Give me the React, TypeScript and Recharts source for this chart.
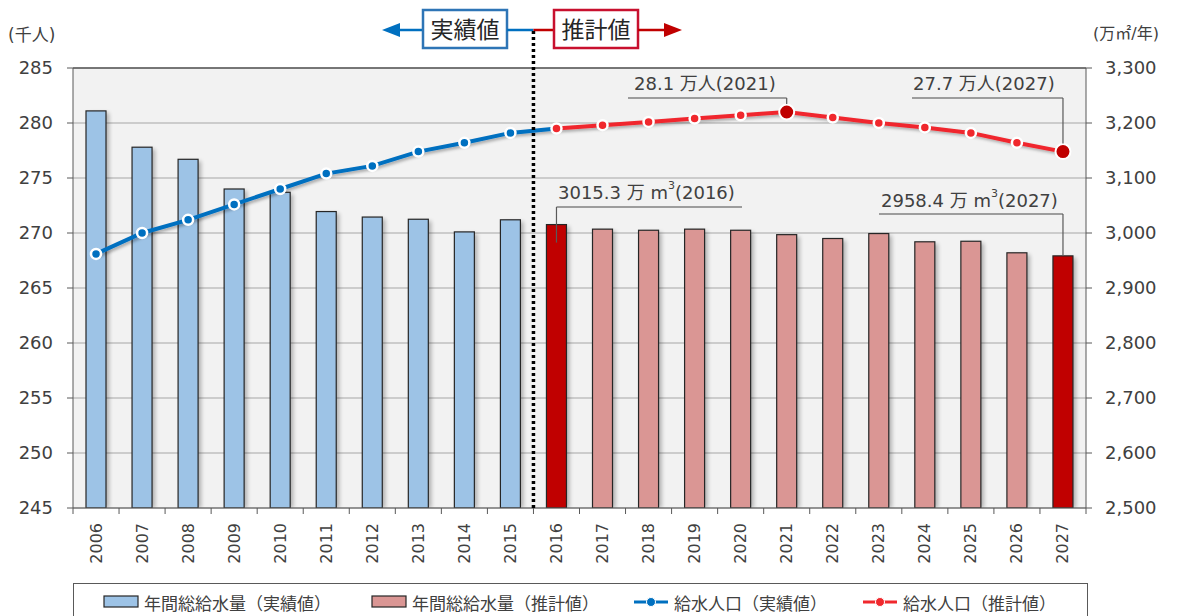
import React from "react";
import {
  Bar,
  CartesianGrid,
  ComposedChart,
  Line,
  ReferenceLine,
  XAxis,
  YAxis,
} from "recharts";

// categories
const years = [
  "2006", "2007", "2008", "2009", "2010", "2011", "2012", "2013", "2014", "2015",
  "2016", "2017", "2018", "2019", "2020", "2021", "2022", "2023", "2024", "2025",
  "2026", "2027",
];

// 年間総給水量 (万m³/年)
const waterActual = [3222, 3156, 3134, 3080, 3074, 3039, 3029, 3025, 3002, 3024];
const waterEstimate = [3015.3, 3007, 3005, 3007, 3005, 2997, 2990, 2999, 2984, 2985, 2964, 2958.4];

// 給水人口 (千人)
const popActual = [268.1, 270.0, 271.2, 272.6, 274.0, 275.4, 276.1, 277.4, 278.2, 279.1];
const popEstimate = [279.5, 279.8, 280.1, 280.4, 280.7, 281.0, 280.5, 280.0, 279.6, 279.1, 278.2, 277.4];

const popTicks = [245, 250, 255, 260, 265, 270, 275, 280, 285];
const waterTicks = [2500, 2600, 2700, 2800, 2900, 3000, 3100, 3200, 3300];

const highlightBarYears = ["2016", "2027"];
const highlightPopYears = ["2021", "2027"];

const W = 1178;
const H = 616;
const PLOT = { left: 73, top: 68, right: 1086, bottom: 508 };
const BAND = (PLOT.right - PLOT.left) / years.length;
const FONT = '"DejaVu Sans", "Noto Sans CJK JP", sans-serif';
const nActual = waterActual.length;

const rows = years.map((year, i) => ({
  year,
  water: i < nActual ? waterActual[i] : waterEstimate[i - nActual],
  popA: i < nActual ? popActual[i] : i === nActual ? popEstimate[0] : null,
  popE: i >= nActual ? popEstimate[i - nActual] : null,
}));

// helpers for the overlay (annotations follow the same domains as the axes)
const xOf = (year: string) => PLOT.left + BAND * (years.indexOf(year) + 0.5);
const yPop = (v: number) =>
  PLOT.top + ((popTicks[popTicks.length - 1] - v) / (popTicks[popTicks.length - 1] - popTicks[0])) * (PLOT.bottom - PLOT.top);
const yWater = (v: number) =>
  PLOT.top + ((waterTicks[waterTicks.length - 1] - v) / (waterTicks[waterTicks.length - 1] - waterTicks[0])) * (PLOT.bottom - PLOT.top);
const rowOf = (year: string) => rows[years.indexOf(year)];

function WaterBar(props: any) {
  const { x, y, width, height, payload } = props;
  const i = years.indexOf(payload.year);
  const fill = highlightBarYears.includes(payload.year)
    ? "#c00000"
    : i < nActual
    ? "#9dc3e6"
    : "#da9694";
  return (
    <g>
      {/* soft shadow to the right of each bar */}
      <rect x={x + 3} y={y + 2} width={width} height={height - 2} fill="#000" opacity={0.28} filter="url(#blur2)" />
      <rect x={x} y={y} width={width} height={height} fill={fill} stroke="#262626" strokeWidth={1.2} />
    </g>
  );
}

function ActualDot(p: any) {
  if (p.cy == null || years.indexOf(p.payload.year) >= nActual) return <g key={p.index} />;
  return <circle key={p.index} cx={p.cx} cy={p.cy} r={5} fill="#0070c0" stroke="#ffffff" strokeWidth={2.5} />;
}

function EstimateDot(p: any) {
  if (p.cy == null) return <g key={p.index} />;
  if (highlightPopYears.includes(p.payload.year)) {
    return <circle key={p.index} cx={p.cx} cy={p.cy} r={7.5} fill="#c00000" stroke="#ffffff" strokeWidth={2} />;
  }
  return <circle key={p.index} cx={p.cx} cy={p.cy} r={5} fill="#f0282d" stroke="#ffffff" strokeWidth={2.5} />;
}

function YearTick({ x, y, payload }: any) {
  const half = BAND / 2;
  const last = payload.value === years[years.length - 1];
  return (
    <g>
      <line x1={x - half} x2={x - half} y1={y} y2={y + 6} stroke="#595959" />
      {last && <line x1={x + half} x2={x + half} y1={y} y2={y + 6} stroke="#595959" />}
      <text
        x={x}
        y={y + 15}
        transform={`rotate(-90 ${x} ${y + 15})`}
        textAnchor="end"
        dominantBaseline="central"
        fontSize={16}
        fill="#404040"
        fontFamily={FONT}
      >
        {payload.value}
      </text>
    </g>
  );
}

type Note = { text: React.ReactNode; textX: number; textY: number; lineY: number; lineX: number; px: number; py: number };

function Overlay() {
  const divX = PLOT.left + BAND * nActual;
  const p2021 = rowOf("2021").popE as number;
  const p2027 = rowOf("2027").popE as number;
  const notes: Note[] = [
    { text: "28.1 万人(2021)", textX: 634, textY: 83, lineY: 98, lineX: 628, px: xOf("2021"), py: yPop(p2021) - 8 },
    { text: "27.7 万人(2027)", textX: 913, textY: 83, lineY: 98, lineX: 912, px: xOf("2027"), py: yPop(p2027) - 8 },
    {
      text: (
        <>
          3015.3 万 m<tspan dy={-7} fontSize={11}>3</tspan>
          <tspan dy={7}>(2016)</tspan>
        </>
      ),
      textX: 558, textY: 192, lineY: 207, lineX: 742, px: xOf("2016"), py: yWater(rowOf("2016").water) + 18,
    },
    {
      text: (
        <>
          2958.4 万 m<tspan dy={-7} fontSize={11}>3</tspan>
          <tspan dy={7}>(2027)</tspan>
        </>
      ),
      textX: 881, textY: 200, lineY: 214, lineX: 879, px: xOf("2027"), py: yWater(rowOf("2027").water),
    },
  ];
  return (
    <svg
      width={W}
      height={H}
      style={{ position: "absolute", left: 0, top: 0, pointerEvents: "none" }}
      fontFamily={FONT}
    >
      {/* unit labels */}
      <text x={8} y={35} fontSize={17} fill="#404040" dominantBaseline="central">(千人)</text>
      <text x={1093} y={33} fontSize={16} fill="#404040" dominantBaseline="central">(万㎡/年)</text>

      {/* header: 実績値 / 推計値 */}
      <line x1={396} x2={423} y1={30} y2={30} stroke="#0070c0" strokeWidth={2.5} />
      <polygon points="382,30 400,23 400,37" fill="#0070c0" />
      <rect x={423} y={10} width={84} height={38} fill="#fff" stroke="#2e75b6" strokeWidth={2.5} />
      <text x={465} y={30} fontSize={23} fill="#262626" textAnchor="middle" dominantBaseline="central">実績値</text>
      <line x1={507} x2={divX} y1={30} y2={30} stroke="#0070c0" strokeWidth={2.5} />
      <line x1={divX} x2={554} y1={30} y2={30} stroke="#c00000" strokeWidth={2.5} />
      <rect x={554} y={10} width={84} height={38} fill="#fff" stroke="#c8102e" strokeWidth={2.5} />
      <text x={596} y={30} fontSize={23} fill="#262626" textAnchor="middle" dominantBaseline="central">推計値</text>
      <line x1={638} x2={668} y1={30} y2={30} stroke="#c00000" strokeWidth={2.5} />
      <polygon points="682,30 664,23 664,37" fill="#c00000" />

      {/* divider */}
      <line x1={divX} x2={divX} y1={31} y2={PLOT.bottom} stroke="#000" strokeWidth={3.5} strokeDasharray="3 3" />

      {/* annotations */}
      {notes.map((n, i) => (
        <g key={i}>
          <line x1={n.lineX} x2={n.px} y1={n.lineY} y2={n.lineY} stroke="#808080" strokeWidth={1.5} />
          <line x1={n.px} x2={n.px} y1={n.lineY} y2={n.py} stroke="#595959" strokeWidth={1.2} />
          <text x={n.textX} y={n.textY} fontSize={18} fill="#404040" dominantBaseline="central">
            {n.text}
          </text>
        </g>
      ))}
    </svg>
  );
}

const legendItems = [
  { label: "年間総給水量（実績値）", kind: "bar", color: "#9dc3e6", left: 103 },
  { label: "年間総給水量（推計値）", kind: "bar", color: "#da9694", left: 371 },
  { label: "給水人口（実績値）", kind: "line", color: "#0070c0", left: 633 },
  { label: "給水人口（推計値）", kind: "line", color: "#f0282d", left: 862 },
];

function LegendBox() {
  return (
    <div
      style={{
        position: "absolute",
        left: 73,
        top: 583,
        width: 1015,
        height: 44,
        border: "1px solid #595959",
        background: "#fff",
        boxSizing: "border-box",
        fontFamily: FONT,
      }}
    >
      {legendItems.map((it) => (
        <div
          key={it.label}
          style={{
            position: "absolute",
            left: it.left - 74,
            top: 6,
            display: "flex",
            alignItems: "center",
            height: 24,
            fontSize: 17,
            color: "#404040",
            whiteSpace: "nowrap",
          }}
        >
          <svg width={38} height={14} style={{ marginRight: 3 }}>
            {it.kind === "bar" ? (
              <rect x={1} y={1} width={34} height={11} fill={it.color} stroke="#262626" strokeWidth={1.2} />
            ) : (
              <>
                <line x1={1} x2={35} y1={7} y2={7} stroke={it.color} strokeWidth={3} />
                <circle cx={18} cy={7} r={4.5} fill={it.color} stroke="#fff" strokeWidth={1} />
              </>
            )}
          </svg>
          {it.label}
        </div>
      ))}
    </div>
  );
}

export default function App() {
  return (
    <div
      style={{
        position: "absolute",
        left: 0,
        top: 0,
        width: W,
        height: H,
        overflow: "hidden",
        background: "#fff",
        fontFamily: FONT,
      }}
    >
      <svg width={0} height={0} style={{ position: "absolute" }}>
        <defs>
          <filter id="blur2" x="-50%" y="-10%" width="200%" height="120%">
            <feGaussianBlur stdDeviation={2} />
          </filter>
          <filter id="lineShadow" x="-5%" y="-20%" width="110%" height="160%">
            <feDropShadow dx={2} dy={2} stdDeviation={1.5} floodColor="#000" floodOpacity={0.3} />
          </filter>
        </defs>
      </svg>
      <ComposedChart
        width={W}
        height={H}
        data={rows}
        margin={{ top: PLOT.top, left: PLOT.left - 60, right: W - PLOT.right - 80, bottom: H - PLOT.bottom - 60 }}
      >
        <CartesianGrid yAxisId="pop" vertical={false} stroke="#a6a6a6" fill="#f2f2f2" fillOpacity={1} />
        <XAxis
          dataKey="year"
          interval={0}
          height={60}
          tickSize={0}
          tickMargin={0}
          tickLine={false}
          axisLine={{ stroke: "#595959" }}
          tick={<YearTick />}
        />
        <YAxis
          yAxisId="pop"
          orientation="left"
          width={60}
          domain={[popTicks[0], popTicks[popTicks.length - 1]]}
          ticks={popTicks}
          interval={0}
          allowDataOverflow
          tickSize={6}
          tickMargin={14}
          axisLine={{ stroke: "#595959" }}
          tickLine={{ stroke: "#595959" }}
          tick={{ fontSize: 18, fill: "#404040", fontFamily: FONT }}
        />
        <YAxis
          yAxisId="water"
          orientation="right"
          width={80}
          domain={[waterTicks[0], waterTicks[waterTicks.length - 1]]}
          ticks={waterTicks}
          interval={0}
          allowDataOverflow
          tickSize={6}
          tickMargin={13}
          axisLine={{ stroke: "#595959" }}
          tickLine={{ stroke: "#595959" }}
          tick={{ fontSize: 18, fill: "#404040", fontFamily: FONT }}
          tickFormatter={(v: number) => v.toLocaleString("en-US")}
        />
        <ReferenceLine yAxisId="pop" y={popTicks[popTicks.length - 1]} stroke="#595959" strokeWidth={1.5} />
        <Bar yAxisId="water" dataKey="water" barSize={20} shape={WaterBar} isAnimationActive={false} />
        <Line
          yAxisId="pop"
          dataKey="popA"
          stroke="#0070c0"
          strokeWidth={4}
          dot={ActualDot}
          activeDot={false}
          filter="url(#lineShadow)"
          isAnimationActive={false}
        />
        <Line
          yAxisId="pop"
          dataKey="popE"
          stroke="#f0282d"
          strokeWidth={4}
          dot={EstimateDot}
          activeDot={false}
          filter="url(#lineShadow)"
          isAnimationActive={false}
        />
      </ComposedChart>
      <Overlay />
      <LegendBox />
    </div>
  );
}
